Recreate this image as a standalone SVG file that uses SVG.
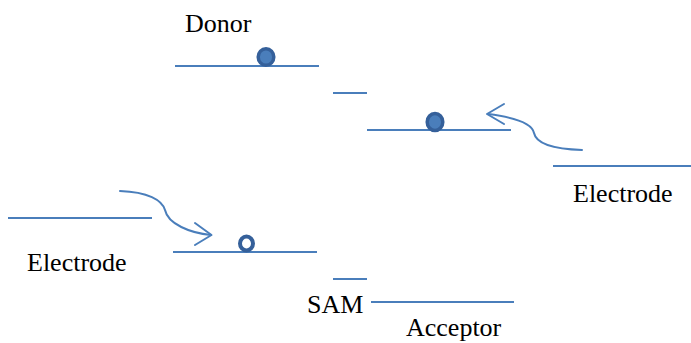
<svg xmlns="http://www.w3.org/2000/svg" width="691" height="343" viewBox="0 0 691 343">
  <defs>
    <style>
      .level { stroke: #4A7EBB; stroke-width: 2; fill: none; }
      .flow { stroke: #4A7EBB; stroke-width: 2; fill: none; stroke-linecap: round; stroke-linejoin: round; }
      .electron { fill: #4A7EBB; stroke: #35609A; stroke-width: 3.5; }
      .hole { fill: #ffffff; stroke: #35609A; stroke-width: 4; }
      .label { font-size: 26px; fill: #000000; }
    </style>
  </defs>
  <rect width="691" height="343" fill="#ffffff"/>

  <!-- donor levels -->
  <g id="donor">
    <text class="label" font-family="'Liberation Serif', serif" x="185" y="32">Donor</text>
    <line class="level" x1="175" y1="66" x2="319" y2="66"/>
    <ellipse class="electron" cx="266" cy="57" rx="7.8" ry="8.3"/>
    <line class="level" x1="333" y1="93" x2="367" y2="93"/>
    <line class="level" x1="367" y1="130" x2="511" y2="130"/>
    <ellipse class="electron" cx="435" cy="122" rx="7.8" ry="8.5"/>
  </g>

  <!-- right electrode -->
  <g id="electrode-right">
    <line class="level" x1="553" y1="166" x2="691" y2="166"/>
    <text class="label" font-family="'Liberation Serif', serif" x="573" y="202">Electrode</text>
  </g>

  <!-- left electrode -->
  <g id="electrode-left">
    <line class="level" x1="8" y1="218" x2="152" y2="218"/>
    <text class="label" font-family="'Liberation Serif', serif" x="27" y="271">Electrode</text>
  </g>

  <!-- acceptor levels -->
  <g id="acceptor">
    <line class="level" x1="173" y1="252" x2="317" y2="252"/>
    <ellipse class="hole" cx="246.5" cy="243.5" rx="6.5" ry="7"/>
    <line class="level" x1="333" y1="279" x2="367" y2="279"/>
    <line class="level" x1="371" y1="302" x2="514" y2="302"/>
    <text class="label" font-family="'Liberation Serif', serif" x="307" y="313">SAM</text>
    <text class="label" font-family="'Liberation Serif', serif" x="406" y="336">Acceptor</text>
  </g>

  <!-- electron transfer arrows -->
  <g id="connectors">
    <path class="flow" d="M582,150 C552,149 536,143 534,133 C532,122 512,117 488,114"/>
    <path class="flow" d="M504,104 L487,114 L504,124"/>
    <path class="flow" d="M120,191 C148,192 162,200 165,210 C168,224 190,233 211,235"/>
    <path class="flow" d="M195,223 L211.5,235 L195,245"/>
  </g>
</svg>
